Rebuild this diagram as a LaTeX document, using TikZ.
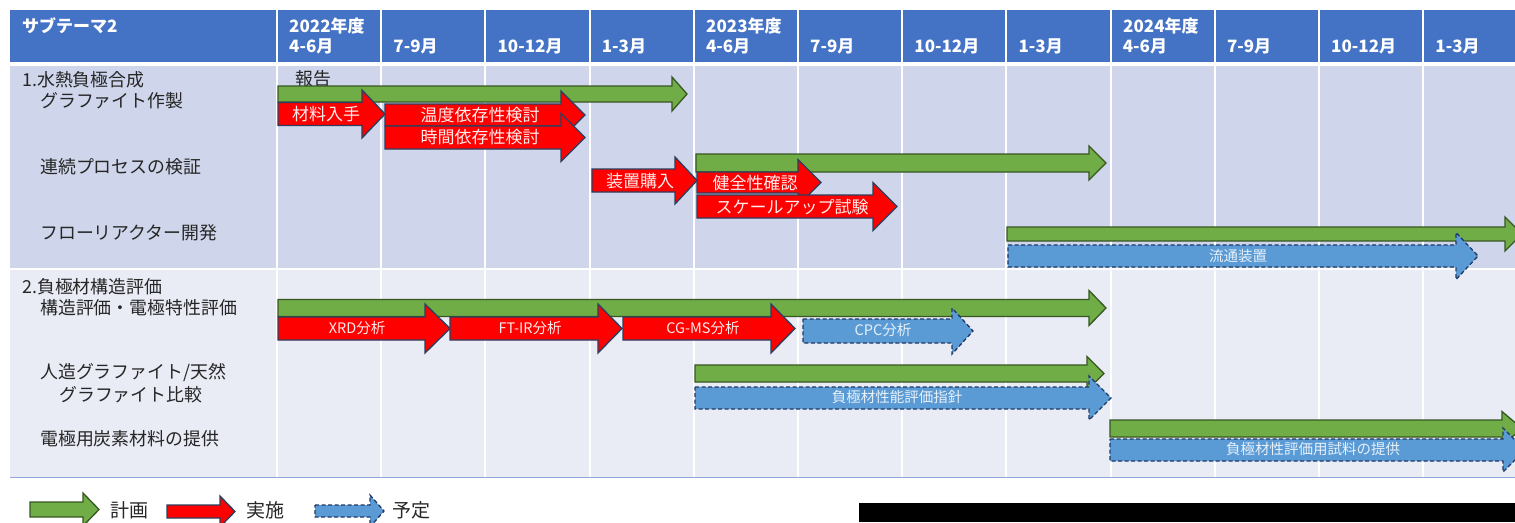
\documentclass[tikz,border=0pt]{standalone}
\usepackage{fontspec}
\setmainfont{Noto Sans CJK JP}
\definecolor{hdrB}{HTML}{4472C4}
\definecolor{rowA}{HTML}{CFD5EA}
\definecolor{rowB}{HTML}{E9EBF5}
\definecolor{planG}{HTML}{70AD47}
\definecolor{planE}{HTML}{385723}
\definecolor{doneR}{HTML}{FF0000}
\definecolor{doneE}{HTML}{2A3F5F}
\definecolor{schB}{HTML}{5B9BD5}
\definecolor{schE}{HTML}{1F3864}
\definecolor{txt}{HTML}{262626}
\definecolor{lineB}{HTML}{8EA9DB}
\tikzset{
 plan/.style={fill=planG, draw=planE, line width=1.3pt},
 done/.style={fill=doneR, draw=doneE, line width=1.3pt},
 sched/.style={fill=schB, draw=schE, line width=1.3pt, dash pattern=on 4pt off 2.5pt},
 lbl/.style={anchor=west, inner sep=0pt, text=txt, font=\fontsize{17.9}{20}\selectfont},
 hdr/.style={anchor=west, inner sep=0pt, text=white, font=\bfseries\fontsize{17}{20}\selectfont},
 atxt/.style={inner sep=0pt, text=white!92!red, font=\fontsize{17}{20}\selectfont},
 stxt/.style={inner sep=0pt, text=white!92!red, font=\fontsize{14.5}{17}\selectfont},
 btxt/.style={inner sep=0pt, text=white!85!schB, font=\fontsize{14.5}{17}\selectfont},
 legtxt/.style={anchor=west, inner sep=0pt, text=txt, font=\fontsize{19}{22}\selectfont},
 sep/.style={draw=white, line width=2pt},
}
\newcommand{\arw}[7]{\draw[#1] (#2,{#5-#6}) -- (#4,{#5-#6}) -- (#4,{#5-#7}) -- (#3,#5) -- (#4,{#5+#7}) -- (#4,{#5+#6}) -- (#2,{#5+#6}) -- cycle;}
\begin{document}
\begin{tikzpicture}[x=1pt,y=-1pt]
\useasboundingbox (0,0) rectangle (1515,522);
\clip (0,0) rectangle (1515,522);
\fill[white] (0,0) rectangle (1515,522);
% table
\fill[hdrB] (10,10) rectangle (1515,62);
\fill[rowA] (10,66) rectangle (1515,268);
\fill[rowB] (10,270) rectangle (1515,477);
\draw[lineB, line width=1pt] (10,477) -- (1515,477);
\foreach \k in {0,...,11} {
  \draw[sep] ({277+104.2*\k},10) -- ({277+104.2*\k},477);
}
% header texts
\node[hdr] (h0) at (22,26) {サブテーマ2};
\node[hdr] (y1) at (289,26) {2022年度};
\node[hdr] (y2) at (706,26) {2023年度};
\node[hdr] (y3) at (1123,26) {2024年度};
\foreach \lab [count=\i from 0] in {4-6月,7-9月,10-12月,1-3月,4-6月,7-9月,10-12月,1-3月,4-6月,7-9月,10-12月,1-3月} {
  \node[hdr] (m\i) at ({289+104.2*\i},46) {\lab};
}
% row labels
\node[lbl] (r1) at (22,80) {1.水熱負極合成};
\node[lbl] (r1a) at (40,101) {グラファイト作製};
\node[lbl] (r1b) at (40,167) {連続プロセスの検証};
\node[lbl] (r1c) at (40,233) {フローリアクター開発};
\node[lbl] (rep) at (295,79) {報告};
\node[lbl] (r2) at (22,287) {2.負極材構造評価};
\node[lbl] (r2a) at (40,308) {構造評価・電極特性評価};
\node[lbl] (r2b) at (40,373) {人造グラファイト/天然};
\node[lbl] (r2c) at (59,395) {グラファイト比較};
\node[lbl] (r2d) at (40,439) {電極用炭素材料の提供};
% row 1 arrows
\arw{plan}{278}{687}{672}{94}{8}{17}
\arw{done}{278}{385}{362}{114}{11.5}{24}
\arw{done}{385}{585}{561}{115}{11}{24}
\arw{done}{385}{585}{561}{137.5}{11.5}{24}
\arw{plan}{696}{1106}{1089}{163}{9}{17}
\arw{done}{592}{697}{675}{180.5}{11.5}{23.5}
\arw{done}{697}{821}{798}{182.5}{10.5}{23}
\arw{done}{697}{897}{873}{206.5}{11.5}{24}
\arw{plan}{1007}{1522}{1505}{234}{7}{17}
\arw{sched}{1008}{1478}{1456}{256}{11}{23.5}
\node[atxt] (t1) at (326,114) {材料入手};
\node[atxt] (t2) at (480,115) {温度依存性検討};
\node[atxt] (t3) at (480,137) {時間依存性検討};
\node[atxt] (t4) at (640,181) {装置購入};
\node[atxt] (t5) at (755,183) {健全性確認};
\node[atxt] (t6) at (792,207) {スケールアップ試験};
\node[btxt] (t7) at (1238,256) {流通装置};
% row 2 arrows
\arw{plan}{278}{1106}{1089}{308}{8.5}{17.5}
\arw{done}{278}{450}{425}{328.5}{11.5}{24.5}
\arw{done}{450}{622}{598}{328.5}{11.5}{24.5}
\arw{done}{623}{795}{771}{328.5}{11.5}{24.5}
\arw{sched}{803}{973}{952}{331}{12}{23}
\arw{plan}{695}{1104}{1087}{373.5}{8.5}{17}
\arw{sched}{695}{1111}{1089}{398}{11}{22}
\arw{plan}{1110}{1522}{1502}{428.5}{8.5}{17}
\arw{sched}{1110}{1525}{1503}{450}{11}{22}
\node[stxt] (u1) at (357,328) {XRD分析};
\node[stxt] (u2) at (530,328) {FT-IR分析};
\node[stxt] (u3) at (703,328) {CG-MS分析};
\node[btxt] (u4) at (883,330) {CPC分析};
\node[btxt] (u5) at (897,397) {負極材性能評価指針};
\node[btxt] (u6) at (1313,449) {負極材性評価用試料の提供};
% legend
\arw{plan}{30}{99}{83}{509.5}{7.5}{16.5}
\arw{done}{167}{235}{220}{511.5}{6.5}{15.5}
\arw{sched}{315}{384}{370}{511}{6}{16}
\node[legtxt] (l1) at (110,510) {計画};
\node[legtxt] (l2) at (246,510) {実施};
\node[legtxt] (l3) at (392,510) {予定};
\fill[black] (859,503) rectangle (1515,522);
\end{tikzpicture}
\end{document}
